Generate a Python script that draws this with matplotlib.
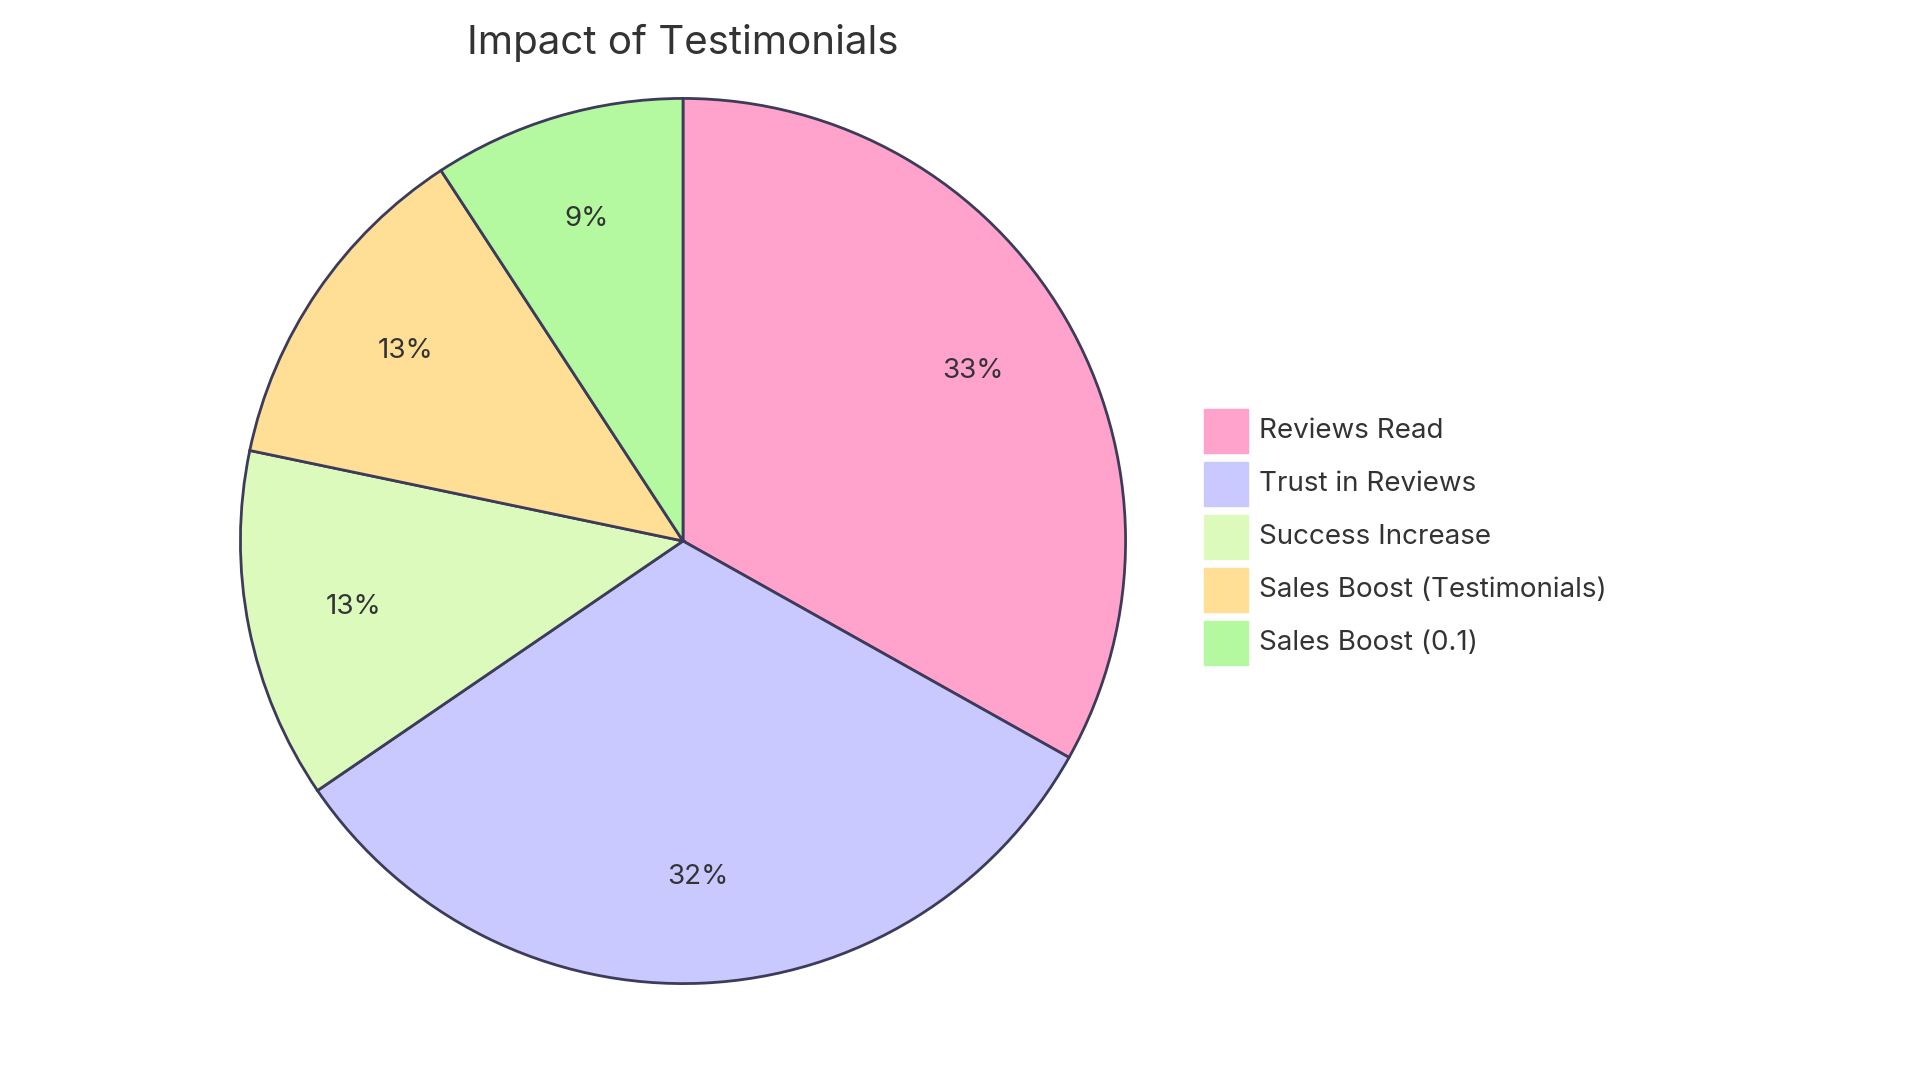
import matplotlib
matplotlib.use("Agg")
import matplotlib.pyplot as plt
from matplotlib.patches import Rectangle

categories = ["Reviews Read", "Trust in Reviews", "Success Increase",
              "Sales Boost (Testimonials)", "Sales Boost (0.1)"]
values = [33.1, 32.3, 12.8, 12.5, 9.2]
colors = ["#FFA3CC", "#C9C9FF", "#DCFABB", "#FFDE96", "#B4F8A0"]
title = "Impact of Testimonials"

plt.rcParams["font.family"] = "Inter"
W, H = 1920, 1083
fig = plt.figure(figsize=(W/100, H/100), dpi=100)
cx, cy, r = 683, 541, 447
ax = fig.add_axes([(cx-r)/W, (H-cy-r)/H, 2*r/W, 2*r/H])
ax.pie(values, colors=colors, startangle=90, counterclock=False,
       autopct=lambda p: f"{p:.0f}%", pctdistance=0.76,
       wedgeprops=dict(edgecolor="#3C3C5A", linewidth=2),
       textprops=dict(fontsize=20, color="#333333"))
ax.set_aspect("equal")
ax.set_xlim(-1.01, 1.01); ax.set_ylim(-1.01, 1.01)
ax.axis("off")

fig.text(cx/W, 1-43/H, title, ha="center", va="center", fontsize=29, color="#333333")

sq = 44
for i, (c, col) in enumerate(zip(categories, colors)):
    yc = 431 + i*53
    fig.patches.append(Rectangle(((1204)/W, 1-(yc+sq/2)/H), sq/W, sq/H,
                                 transform=fig.transFigure, facecolor=col,
                                 edgecolor=col, figure=fig))
    fig.text(1259/W, 1-yc/H, c, ha="left", va="center", fontsize=20, color="#333333")

fig.savefig("out.png", dpi=100, facecolor="white")
